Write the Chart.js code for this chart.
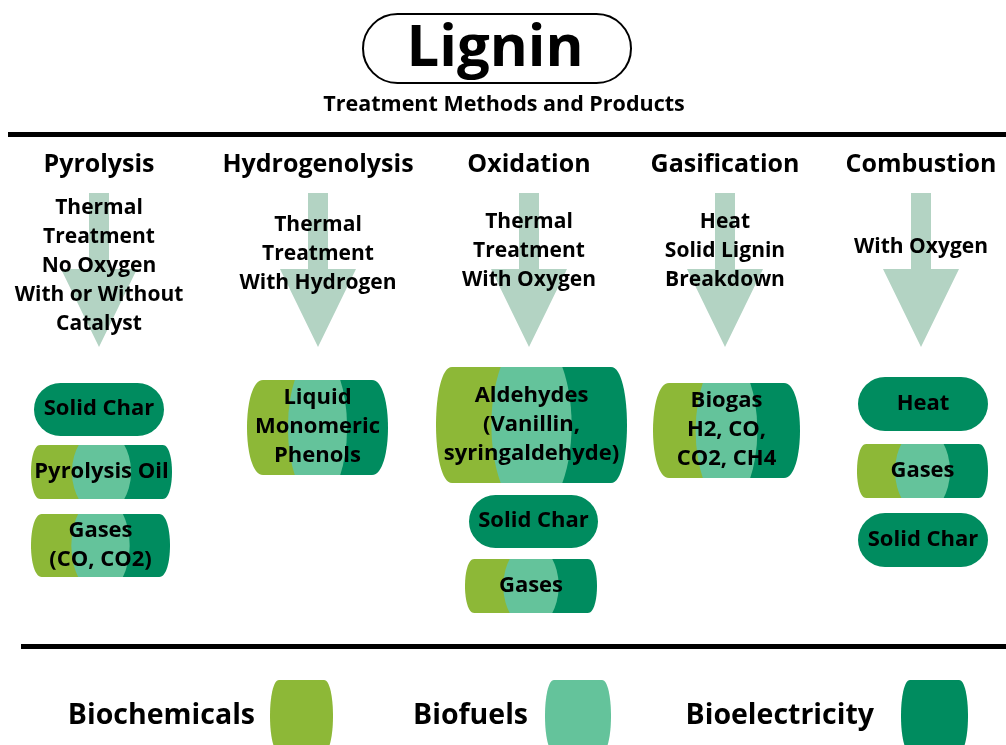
<!DOCTYPE html>
<html>
<head>
<meta charset="utf-8">
<title>Lignin - Treatment Methods and Products</title>
<script src="https://cdn.jsdelivr.net/npm/chart.js@4"></script>
<style>
    html, body { margin: 0; padding: 0; background: #fff; }
    #chart { display: block; }
</style>
</head>
<body>
<canvas id="chart" width="1006" height="745"></canvas>
<script>
// Lignin treatment methods and what they turn lignin into

const chartTitle = 'Lignin';
const chartSubtitle = 'Treatment Methods and Products';

const methods = ['Pyrolysis', 'Hydrogenolysis', 'Oxidation', 'Gasification', 'Combustion'];

const conditions = [
    ['Thermal', 'Treatment', 'No Oxygen', 'With or Without', 'Catalyst'],
    ['Thermal', 'Treatment', 'With Hydrogen'],
    ['Thermal', 'Treatment', 'With Oxygen'],
    ['Heat', 'Solid Lignin', 'Breakdown'],
    ['With Oxygen']
];

const products = [
    [['Solid Char'], ['Pyrolysis Oil'], ['Gases', '(CO, CO2)']],
    [['Liquid', 'Monomeric', 'Phenols']],
    [['Aldehydes', '(Vanillin,', 'syringaldehyde)'], ['Solid Char'], ['Gases']],
    [['Biogas', 'H2, CO,', 'CO2, CH4']],
    [['Heat'], ['Gases'], ['Solid Char']]
];

const useCategories = ['Biochemicals', 'Biofuels', 'Bioelectricity'];

// end uses of every product, same order as products
const ALL = useCategories;
const ELEC = ['Bioelectricity'];
const productUses = [
    [ELEC, ALL, ALL],
    [ALL],
    [ALL, ELEC, ALL],
    [ALL],
    [ELEC, ALL, ELEC]
];

// ---- styles and layout (pixel units of the hidden 0..1006 x 0..745 scales) ----
const useColors = { Biochemicals: '#8db837', Biofuels: '#64c39b', Bioelectricity: '#008c5f' };
const arrowColor = '#b3d3c3';
const FONT = '"Open Sans", "DejaVu Sans", sans-serif';

const columnX = [99, 318, 529, 725, 921];
const conditionFirstBaseline = [214, 231, 228, 228, 253];
const productBoxes = [
    [[34, 164, 383, 436], [31, 172, 445, 499], [31, 170, 514, 577]],
    [[247, 388, 380, 475]],
    [[436, 627, 367, 483], [469, 598, 495, 548], [465, 597, 559, 613]],
    [[653, 800, 383, 478]],
    [[858, 988, 377, 431], [857, 988, 444, 498], [858, 988, 513, 567]]
];
const legendTextRight = [255, 528, 874];
const legendSwatch = [[270, 333], [545, 611], [901, 968]];

function barrelPath(ctx, x0, x1, y0, y1, b) {
    ctx.beginPath();
    ctx.moveTo(x0 + b, y0);
    ctx.lineTo(x1 - b, y0);
    ctx.bezierCurveTo(x1 + b / 3, y0, x1 + b / 3, y1, x1 - b, y1);
    ctx.lineTo(x0 + b, y1);
    ctx.bezierCurveTo(x0 - b / 3, y1, x0 - b / 3, y0, x0 + b, y0);
    ctx.closePath();
}

function drawLines(ctx, lines, cx, cy, size, lh) {
    ctx.font = 'bold ' + size + 'px ' + FONT;
    ctx.textAlign = 'center';
    ctx.textBaseline = 'alphabetic';
    ctx.fillStyle = '#000';
    const capOffset = size * 0.36 - 2;
    lines.forEach(function(line, i) {
        const y = cy + (i - (lines.length - 1) / 2) * lh + capOffset;
        ctx.fillText(line, cx, y);
    });
}

const diagramPlugin = {
    id: 'ligninDiagram',
    afterDraw: function(chart) {
        const ctx = chart.ctx;
        const X = v => chart.scales.x.getPixelForValue(v);
        const Y = v => chart.scales.y.getPixelForValue(v);
        ctx.save();

        // title pill
        ctx.lineWidth = 2;
        ctx.strokeStyle = '#000';
        ctx.beginPath();
        ctx.roundRect(X(363), Y(14), X(631) - X(363), Y(83) - Y(14), 34.5);
        ctx.stroke();
        ctx.fillStyle = '#000';
        ctx.textAlign = 'center';
        ctx.font = 'bold 58px ' + FONT;
        ctx.fillText(chartTitle, X(495), Y(66));
        ctx.font = 'bold 21.5px ' + FONT;
        ctx.fillText(chartSubtitle, X(504), Y(111));

        // rules
        ctx.fillRect(X(8), Y(132), X(1006) - X(8), 5);
        ctx.fillRect(X(21), Y(644), X(1006) - X(21), 5);

        methods.forEach(function(name, i) {
            const cx = X(columnX[i]);

            // arrow
            ctx.fillStyle = arrowColor;
            ctx.beginPath();
            ctx.moveTo(cx - 10, Y(193));
            ctx.lineTo(cx + 10, Y(193));
            ctx.lineTo(cx + 10, Y(269));
            ctx.lineTo(cx + 38, Y(269));
            ctx.lineTo(cx, Y(347));
            ctx.lineTo(cx - 38, Y(269));
            ctx.lineTo(cx - 10, Y(269));
            ctx.closePath();
            ctx.fill();

            // header
            ctx.fillStyle = '#000';
            ctx.textAlign = 'center';
            ctx.font = 'bold 25px ' + FONT;
            ctx.fillText(name, cx, Y(172));

            // conditions
            ctx.font = 'bold 21px ' + FONT;
            conditions[i].forEach(function(line, k) {
                ctx.fillText(line, cx, Y(conditionFirstBaseline[i] + k * 29));
            });

            // products
            products[i].forEach(function(lines, j) {
                const box = productBoxes[i][j];
                const x0 = X(box[0]), x1 = X(box[1]), y0 = Y(box[2]), y1 = Y(box[3]);
                const w = x1 - x0, h = y1 - y0;
                const uses = productUses[i][j];
                if (uses.length === 1) {
                    ctx.fillStyle = useColors[uses[0]];
                    ctx.beginPath();
                    ctx.roundRect(x0, y0, w, h, h / 2);
                    ctx.fill();
                } else {
                    const b = Math.min(16, h * 0.17);
                    ctx.save();
                    barrelPath(ctx, x0, x1, y0, y1, b);
                    ctx.clip();
                    ctx.fillStyle = useColors[uses[0]];
                    ctx.fillRect(x0 - 5, y0, w / 2 + 5, h);
                    ctx.fillStyle = useColors[uses[2]];
                    ctx.fillRect(x0 + w / 2, y0, w / 2 + 5, h);
                    ctx.fillStyle = useColors[uses[1]];
                    ctx.beginPath();
                    ctx.ellipse(x0 + w / 2, y0 + h / 2, w * 0.21, h * 0.78, 0, 0, Math.PI * 2);
                    ctx.fill();
                    ctx.restore();
                }
                drawLines(ctx, lines, (x0 + x1) / 2, (y0 + y1) / 2, 22, 29);
            });
        });

        // legend
        useCategories.forEach(function(cat, i) {
            ctx.fillStyle = '#000';
            ctx.textAlign = 'right';
            ctx.font = 'bold 28.5px ' + FONT;
            ctx.fillText(cat, X(legendTextRight[i]), Y(724));
            ctx.fillStyle = useColors[cat];
            barrelPath(ctx, X(legendSwatch[i][0]), X(legendSwatch[i][1]), Y(680), Y(752), 9);
            ctx.fill();
        });

        ctx.restore();
    }
};

new Chart(document.getElementById('chart').getContext('2d'), {
    type: 'scatter',
    data: { datasets: [{ data: [] }] },
    options: {
        responsive: false,
        animation: false,
        layout: { padding: 0 },
        scales: {
            x: { type: 'linear', min: 0, max: 1006, display: false },
            y: { type: 'linear', min: 0, max: 745, reverse: true, display: false }
        },
        plugins: { legend: { display: false }, tooltip: { enabled: false } }
    },
    plugins: [diagramPlugin]
});
</script>
</body>
</html>
